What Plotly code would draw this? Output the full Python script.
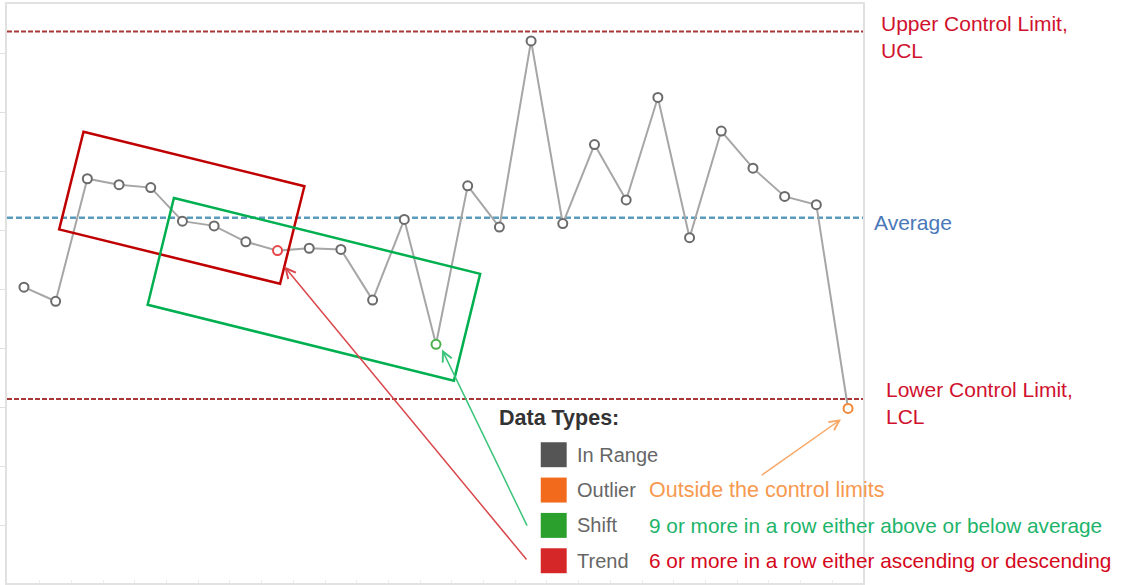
import plotly.graph_objects as go

# ---- control chart data ----
sample = list(range(1, 28))
values = [50.4, 48.0, 68.8, 67.8, 67.3, 61.6, 60.8, 58.1, 56.6, 57.0, 56.8, 48.2,
          61.9, 40.7, 67.6, 60.6, 92.2, 61.2, 74.6, 65.2, 82.6, 58.8, 76.9, 70.6,
          65.8, 64.4, 29.8]
status = ["In Range"] * 27
status[8] = "Trend"
status[13] = "Shift"
status[26] = "Outlier"

ucl = 93.8
average = 62.2
lcl = 31.4
y_ticks = [10, 20, 30, 40, 50, 60, 70, 80, 90]

legend_types = ["In Range", "Outlier", "Shift", "Trend"]
legend_colors = ["#555555", "#f26b1d", "#2ca02c", "#d62728"]
rule_notes = ["", "Outside the control limits",
              "9 or more in a row either above or below average",
              "6 or more in a row either ascending or descending"]
note_colors = ["#666666", "#f7994f", "#1db46a", "#d5081c"]
note_sizes = [20.8, 21.5, 20.8, 20.8]

marker_colors = {"In Range": "#6b6b6b", "Trend": "#e8474a",
                 "Shift": "#4cb04c", "Outlier": "#f2893a"}

# ---- page geometry ----
W, H = 1121, 585
L, R, T, B = 5, 258, 3, 2
PW, PH = W - L - R, H - T - B
FONT = "Liberation Sans, Arial, sans-serif"


def fx(x):
    return (x - L) / PW


def fy(y):
    return (H - B - y) / PH


fig = go.Figure()

fig.add_trace(go.Scatter(
    x=sample, y=values, mode="lines+markers",
    line=dict(color="#a6a6a6", width=2),
    marker=dict(size=9, color="white",
                line=dict(width=2, color=[marker_colors[s] for s in status])),
    showlegend=False, hoverinfo="x+y"))

# control limits and centre line
for val, col, dash, wd in [(ucl, "#a83838", "5px,2px", 2), (lcl, "#a83838", "5px,2px", 2),
                           (average, "#5b9bbb", "6px,3px", 2.5)]:
    fig.add_shape(type="line", xref="paper", yref="y", x0=0, x1=1, y0=val, y1=val,
                  line=dict(color=col, width=wd, dash=dash), layer="below")

# trend and shift highlight boxes
boxes = [
    ([(2.879, 76.78), (9.848, 67.53), (9.080, 50.97), (2.111, 60.2)], "#c00000"),
    ([(5.731, 65.54), (15.394, 52.66), (14.566, 34.53), (4.903, 47.41)], "#00b050"),
]
for pts, col in boxes:
    path = "M " + " L ".join(f"{x},{y}" for x, y in pts) + " Z"
    fig.add_shape(type="path", xref="x", yref="y", path=path,
                  line=dict(color=col, width=2.5))

# arrows from the rule notes to the flagged points
arrows = [
    ((9.215, 53.9), (16.895, 3.9), "#d9474c"),
    ((14.189, 39.8), (16.895, 9.66), "#3cc47a"),
    ((26.78, 27.97), (24.23, 18.3), "#f8a766"),
]
for (hx, hy), (tx, ty), col in arrows:
    fig.add_annotation(x=hx, y=hy, ax=tx, ay=ty, xref="x", yref="y",
                       axref="x", ayref="y", text="", showarrow=True,
                       arrowhead=5, arrowsize=1.3, arrowwidth=1.5,
                       arrowcolor=col, standoff=0, startstandoff=0)

# limit labels on the right
right_labels = [
    ("Upper Control Limit,<br>UCL", ucl, 16, -5, "#d0112e"),
    ("Average", average, 9, -5, "#4a78b8"),
    ("Lower Control Limit,<br>LCL", lcl, 21, -3.5, "#d0112e"),
]
for txt, val, xs, ys, col in right_labels:
    fig.add_annotation(x=1, y=val, xref="paper", yref="y", text=txt,
                       xanchor="left", yanchor="middle", xshift=xs, yshift=ys,
                       showarrow=False, align="left",
                       font=dict(family=FONT, size=21, color=col))

# data-type key
fig.add_annotation(x=fx(496), y=fy(418), xref="paper", yref="paper",
                   text="<b>Data Types:</b>", xanchor="left", yanchor="middle",
                   showarrow=False, font=dict(family=FONT, size=21.5, color="#333333"))
row0, step = 454.5, 35.4
for i, (name, col, note, ncol, nsz) in enumerate(zip(legend_types, legend_colors,
                                                       rule_notes, note_colors,
                                                       note_sizes)):
    cy = row0 + i * step
    fig.add_shape(type="rect", xref="paper", yref="paper",
                  x0=fx(540), x1=fx(566), y0=fy(cy + 12.5), y1=fy(cy - 12.5),
                  fillcolor=col, line=dict(color=col, width=0))
    fig.add_annotation(x=fx(574), y=fy(cy), xref="paper", yref="paper",
                       text=name, xanchor="left", yanchor="middle", showarrow=False,
                       font=dict(family=FONT, size=20, color="#666666"))
    if note:
        fig.add_annotation(x=fx(646), y=fy(cy), xref="paper", yref="paper",
                           text=note, xanchor="left", yanchor="middle",
                           showarrow=False,
                           font=dict(family=FONT, size=nsz, color=ncol))

fig.update_xaxes(range=[0.465, 27.472], showgrid=False, zeroline=False,
                 showline=True, mirror=True, linecolor="#e2e2e2", linewidth=1.5,
                 tickvals=[i + 0.5 for i in range(1, 27)], ticks="inside",
                 ticklen=3, tickcolor="#ececec", showticklabels=False)
fig.update_yaxes(range=[0.17, 98.47], showgrid=False, zeroline=False,
                 showline=True, mirror=True, linecolor="#e0e0e0", linewidth=2,
                 tickvals=y_ticks, ticks="outside", ticklen=5,
                 tickcolor="#e0e0e0", showticklabels=False)

fig.update_layout(width=W, height=H, margin=dict(l=L, r=R, t=T, b=B),
                  paper_bgcolor="white", plot_bgcolor="white",
                  font=dict(family=FONT), showlegend=False)

fig.write_html("out.html")
